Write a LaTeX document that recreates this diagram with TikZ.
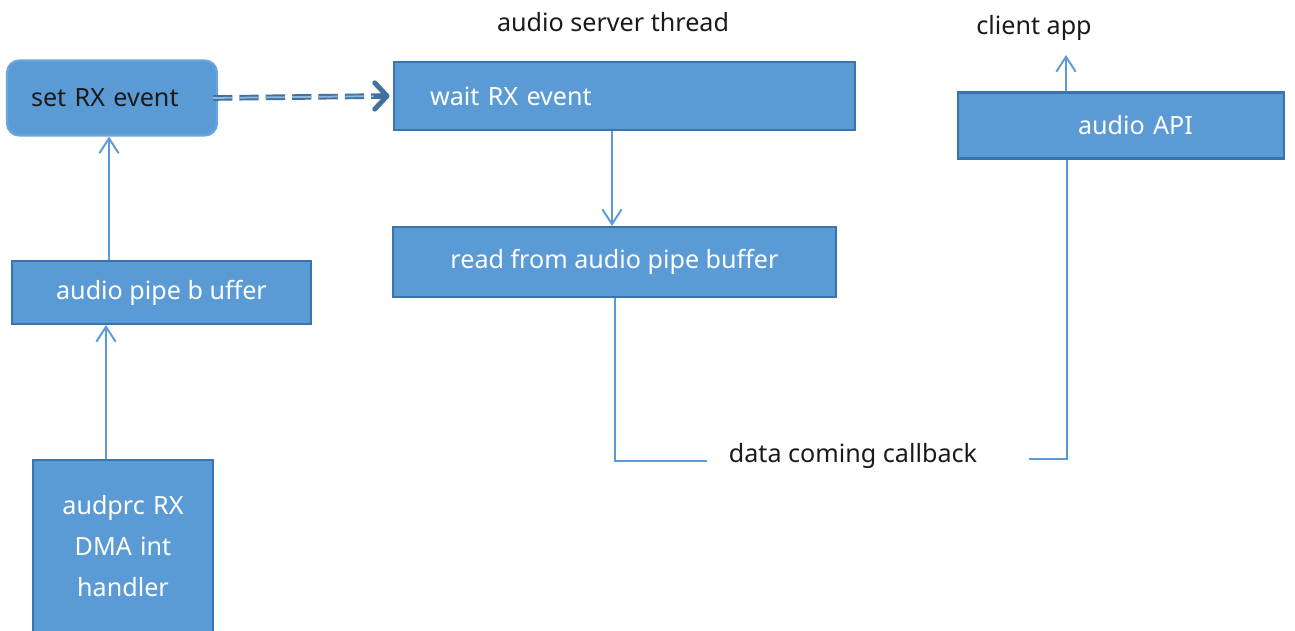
\documentclass[tikz,border=0pt]{standalone}
\usepackage{fontspec}
\setmainfont{Noto Sans}
\usetikzlibrary{arrows.meta}
\definecolor{boxfill}{HTML}{5B9BD5}
\definecolor{boxedge}{HTML}{3A74AE}
\definecolor{linkblue}{HTML}{5B9BD5}
\definecolor{signal}{HTML}{41719C}
\definecolor{ink}{HTML}{1A1A1A}
\tikzset{
  blk/.style={draw=boxedge, line width=1.2pt, fill=boxfill, text=white,
    inner xsep=0pt, inner ysep=0pt, font=\fontsize{14.3}{23.5}\selectfont},
  caption/.style={text=ink, inner sep=0pt, font=\fontsize{14.3}{23.5}\selectfont},
  conn/.style={draw=linkblue, line width=1.1pt,
    -{Straight Barb[length=8.5pt,width=11pt,line width=1.1pt]}},
  wire/.style={draw=linkblue, line width=1.1pt},
  signalline/.style={draw=signal, line width=1.1pt, double=boxfill!70,
    double distance=1pt, dash pattern=on 11pt off 4pt},
  signalhead/.style={draw=signal, line width=2.8pt,
    -{Straight Barb[length=7pt,width=15pt,line width=2.8pt,round]}},
}
\begin{document}
\begin{tikzpicture}[x=0.02cm, y=-0.02cm]
\useasboundingbox (0,0) rectangle (1295,630);

% headings
\node[caption] (server) at (613,22) {audio server thread};
\node[caption] (client) at (1034,28) {client app};

% interrupt side
\node[blk, draw=boxfill!90, rounded corners=0.24cm, text=ink,
      minimum width=4.2cm, minimum height=1.5cm,
      text width=4.2cm, align=left] (set) at (112,98)
      {\hspace*{0.48cm}set RX event};
\node[blk, minimum width=5.98cm, minimum height=1.26cm, align=center]
      (pipe) at (161.5,292.5) {audio pipe b uffer};
\node[blk, minimum width=3.6cm, minimum height=3.44cm, align=center,
      text width=3.6cm] (dma) at (123,546) {audprc RX\\DMA int\\handler};

% server thread
\node[blk, minimum width=9.22cm, minimum height=1.36cm,
      text width=9.22cm, align=left] (wait) at (624.5,96)
      {\hspace*{0.72cm}wait RX event};
\node[blk, minimum width=8.86cm, minimum height=1.4cm, align=center]
      (read) at (614.5,262) {read from audio pipe buffer};

% client side
\node[blk, minimum width=6.52cm, minimum height=1.32cm,
      text width=6.52cm, align=left] (api) at (1121,125.5)
      {\hspace*{2.4cm}audio API};

\node[caption] (cb) at (853,456) {data coming callback};
\coordinate (cbin) at (707,461);
\coordinate (cbout) at (1029,459);
\coordinate (apptip) at (1066,55);

% connectors
\draw[conn] ([xshift=-0.34cm]dma.north) -- ([xshift=-0.34cm]dma.north |- pipe.south);
\draw[conn] ([xshift=-1.05cm]pipe.north) -- ([xshift=-1.05cm]pipe.north |- set.south);
\draw[signalline] ([xshift=-0.1cm]set.east) -- ([xshift=-0.16cm]wait.west);
\draw[signalhead] ([xshift=-0.38cm]wait.west) -- ([xshift=-0.07cm]wait.west);
\draw[conn] ([xshift=-0.25cm]wait.south) -- ([xshift=-0.25cm]wait.south |- read.north);
\draw[wire] ([xshift=0.01cm]read.south) |- (cbin);
\draw[wire] (cbout) -| ([xshift=-1.08cm]api.south);
\draw[conn] ([xshift=-1.1cm]api.north) -- (apptip);
\end{tikzpicture}
\end{document}
